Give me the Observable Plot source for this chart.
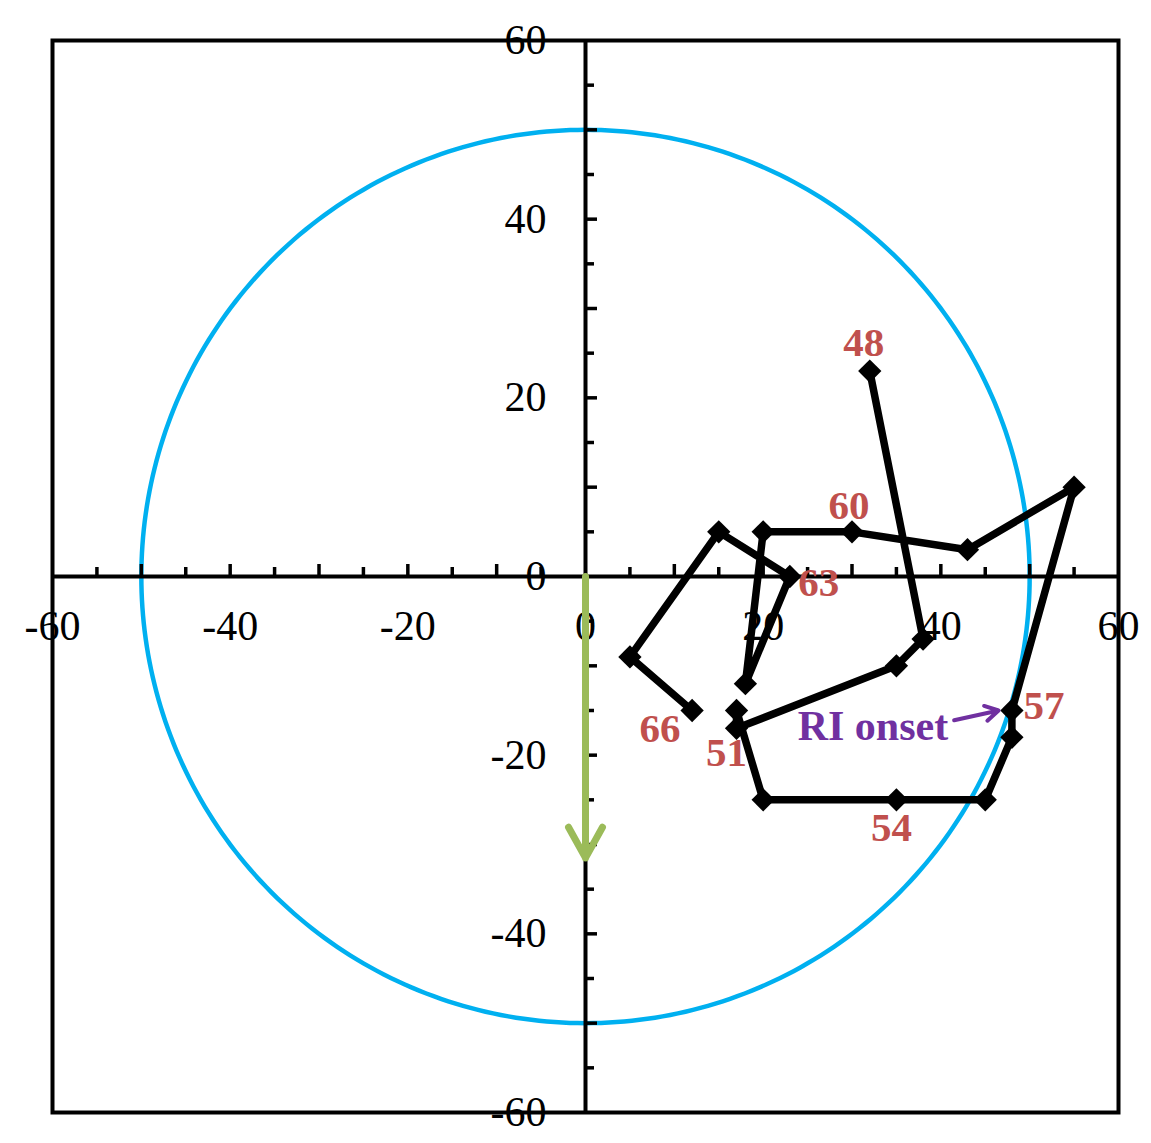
<!DOCTYPE html>
<html>
<head>
<meta charset="utf-8">
<script src="https://cdn.jsdelivr.net/npm/d3@7"></script>
<script src="https://cdn.jsdelivr.net/npm/@observablehq/plot@0.6"></script>
<style>
  html, body { margin: 0; padding: 0; background: #ffffff; }
  #chart { width: 1151px; height: 1143px; }
</style>
</head>
<body>
<div id="chart"></div>
<script>
// ---- Data ----
const hours  = [48, 49, 50, 51, 52, 53, 54, 55, 56, 57, 58, 59, 60, 61, 62, 63, 64, 65, 66];
const trackX = [32, 38, 35, 17, 17, 20, 35, 45, 48, 48, 55, 43, 30, 20, 18, 23, 15,  5, 12];
const trackY = [23, -7,-10,-17,-15,-25,-25,-25,-18,-15, 10,  3,  5,  5,-12,  0,  5, -9,-15];
const labeledHours = [48, 51, 54, 57, 60, 63, 66];

const axisTickLabels = [-60, -40, -20, 0, 20, 40, 60];
const axisTickStep = 5;
const ringRadius = 50;

// Shear vector (green arrow)
const shearX = [0, 0];     // tail, head
const shearY = [0, -31.5];

// RI onset annotation arrow
const riArrowX = [41.5, 46.5]; // tail, head
const riArrowY = [-16.1, -15.0];
const riText = "RI onset";

// ---- Build tables ----
const track = hours.map((h, i) => ({hour: h, x: trackX[i], y: trackY[i]}));
const minorTicks = d3.range(-60 + axisTickStep, 60, axisTickStep).filter(v => v !== 0);
const ring = d3.range(0, 361, 1).map(a => ({
  x: ringRadius * Math.cos(a * Math.PI / 180),
  y: ringRadius * Math.sin(a * Math.PI / 180)
}));

// ---- Layout / style ----
const W = 1151, H = 1143;
const M = {left: 52, right: 33, top: 40, bottom: 31};
const pxX = (W - M.left - M.right) / 120;  // px per unit
const pxY = (H - M.top - M.bottom) / 120;
const serif = "'Liberation Serif', 'Times New Roman', serif";
const red = "#C0504D";

const tickLen = v => (v % 10 === 0 ? 12 : 9);

const labelOffsets = {
  48: [-6, -28], 51: [-10, 25], 54: [-5, 28], 57: [32, -5],
  60: [-3, -26], 63: [29, 6], 66: [-32, 18]
};

const labelMarks = labeledHours.map(h => {
  const [dx, dy] = labelOffsets[h];
  return Plot.text(track.filter(d => d.hour === h), {
    x: "x", y: "y", text: d => String(d.hour), dx, dy,
    fill: red, fontSize: 41, fontWeight: "bold", fontFamily: serif, textAnchor: "middle"
  });
});

const chart = Plot.plot({
  width: W, height: H,
  marginLeft: M.left, marginRight: M.right, marginTop: M.top, marginBottom: M.bottom,
  x: {domain: [-60, 60], axis: null},
  y: {domain: [-60, 60], axis: null},
  style: {background: "#ffffff", overflow: "visible"},
  marks: [
    // ring
    Plot.line(ring, {x: "x", y: "y", stroke: "#00B0F0", strokeWidth: 4.5}),
    // frame
    Plot.frame({stroke: "#000", strokeWidth: 4}),
    // axes through origin
    Plot.ruleY([0], {stroke: "#000", strokeWidth: 4}),
    Plot.ruleX([0], {stroke: "#000", strokeWidth: 4}),
    // ticks on x axis (upward)
    Plot.ruleX(minorTicks, {x: d => d, y1: 0, y2: d => tickLen(d) / pxY, stroke: "#000", strokeWidth: 3.5}),
    // ticks on y axis (rightward)
    Plot.ruleY(minorTicks, {y: d => d, x1: 0, x2: d => tickLen(d) / pxX, stroke: "#000", strokeWidth: 3.5}),
    // tick labels
    Plot.text(axisTickLabels, {x: d => d, y: 0, text: d => String(d), dy: 50,
      fontSize: 42, fontFamily: serif, fill: "#000", textAnchor: "middle"}),
    Plot.text(axisTickLabels, {x: 0, y: d => d, text: d => String(d), dx: -39,
      fontSize: 42, fontFamily: serif, fill: "#000", textAnchor: "end"}),
    // shear arrow
    Plot.arrow([0], {x1: () => shearX[0], y1: () => shearY[0], x2: () => shearX[1], y2: () => shearY[1],
      stroke: "#9BBB59", strokeWidth: 7, headLength: 7.5, headAngle: 58}),
    // track
    Plot.line(track, {x: "x", y: "y", stroke: "#000", strokeWidth: 7.5, strokeLinejoin: "miter"}),
    Plot.dot(track, {x: "x", y: "y", symbol: "diamond2", r: 10.5, fill: "#000", stroke: "none"}),
    ...labelMarks,
    // RI onset annotation
    Plot.arrow([0], {x1: () => riArrowX[0], y1: () => riArrowY[0], x2: () => riArrowX[1], y2: () => riArrowY[1],
      stroke: "#7030A0", strokeWidth: 4, headLength: 8.5}),
    Plot.text([0], {x: () => riArrowX[0], y: () => riArrowY[0], text: () => riText, dx: -6, dy: 6,
      fill: "#7030A0", fontSize: 42, fontWeight: "bold", fontFamily: serif, textAnchor: "end"})
  ]
});

document.getElementById("chart").appendChild(chart);
</script>
</body>
</html>
